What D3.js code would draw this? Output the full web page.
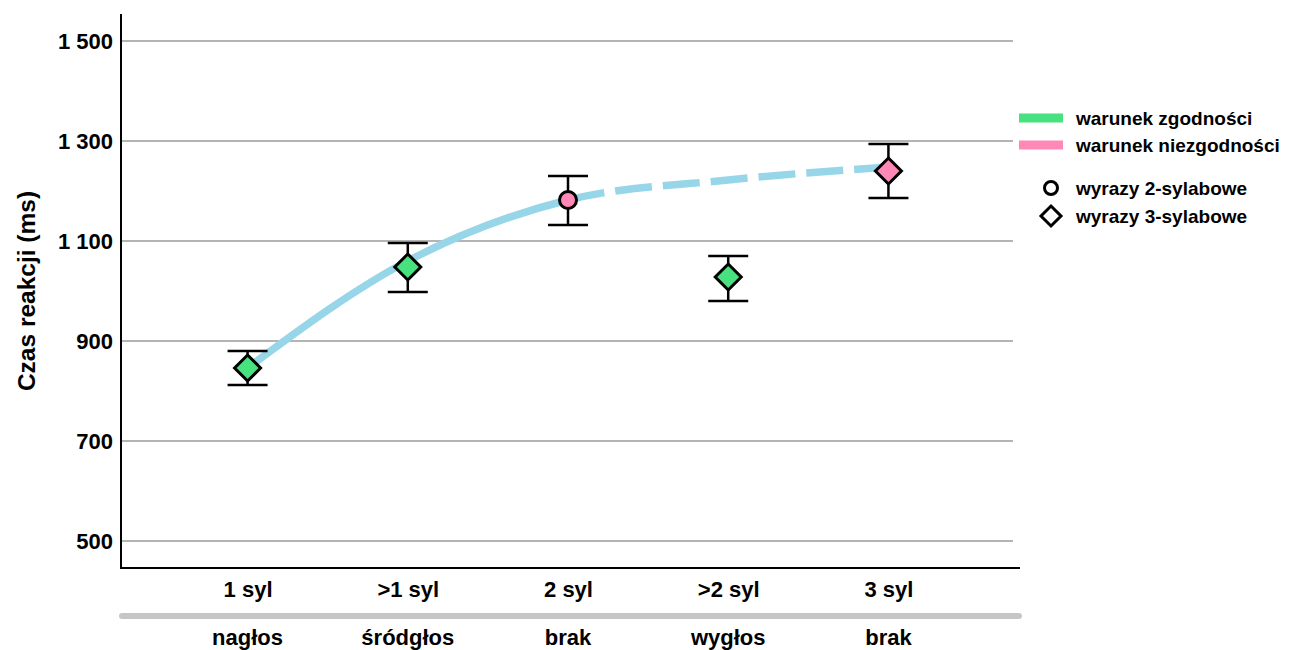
<!DOCTYPE html>
<html>
<head>
<meta charset="utf-8">
<script src="https://cdn.jsdelivr.net/npm/d3@7"></script>
<style>
  html, body { margin: 0; padding: 0; background: #fff; }
  svg { display: block; font-family: "Liberation Sans", Arial, sans-serif; }
</style>
</head>
<body>
<svg id="chart" width="1290" height="650"></svg>
<script>
// Syllable position categories (two-row axis labels)
const categories = ["1 syl", ">1 syl", "2 syl", ">2 syl", "3 syl"];
const positions  = ["nagłos", "śródgłos", "brak", "wygłos", "brak"];

// Mean reaction times (ms) and error-bar bounds
const means  = [846, 1048, 1182, 1028, 1240];
const lower  = [812, 998, 1132, 980, 1186];
const upper  = [880, 1096, 1230, 1070, 1294];
const condition = ["zgodność", "zgodność", "niezgodność", "zgodność", "niezgodność"];
const shapes    = ["diamond", "diamond", "circle", "diamond", "diamond"];

// Fitted trend line values at each category
const trend = [846, 1060, 1182, 1222, 1248];

const yTicks = [500, 700, 900, 1100, 1300, 1500];

const colors = { "zgodność": "#47e27f", "niezgodność": "#ff88b6" };
const trendColor = "#97d6e8";

const svg = d3.select("#chart");
const plotLeft = 121, plotRight = 1015, plotTop = 14, plotBottom = 568;

const y = d3.scaleLinear().domain([446, 1554]).range([plotBottom, plotTop]);
const x = d3.scalePoint().domain(categories).range([plotLeft, plotRight]).padding(0.79);

// Grid lines
svg.append("g").selectAll("line").data(yTicks).join("line")
  .attr("x1", plotLeft).attr("x2", 1013)
  .attr("y1", d => y(d)).attr("y2", d => y(d))
  .attr("stroke", "#b4b4b4").attr("stroke-width", 2);

// Y axis
const fmt = v => v >= 1000 ? Math.floor(v / 1000) + " " + String(v % 1000).padStart(3, "0") : String(v);
const yAxis = svg.append("g").attr("transform", `translate(${plotLeft},0)`)
  .call(d3.axisLeft(y).tickValues(yTicks).tickSize(0).tickPadding(8).tickFormat(fmt));
yAxis.select(".domain").remove();
yAxis.selectAll("text").attr("font-size", 22).attr("font-weight", "bold").attr("fill", "#000");

svg.append("line").attr("x1", plotLeft).attr("x2", plotLeft).attr("y1", plotTop).attr("y2", plotBottom + 1)
  .attr("stroke", "#000").attr("stroke-width", 2);
svg.append("line").attr("x1", plotLeft - 1).attr("x2", 1020).attr("y1", plotBottom).attr("y2", plotBottom)
  .attr("stroke", "#000").attr("stroke-width", 2);

// Y axis title
svg.append("text")
  .attr("transform", `translate(35,291) rotate(-90)`)
  .attr("text-anchor", "middle").attr("font-size", 24.5).attr("font-weight", "bold")
  .text("Czas reakcji (ms)");

// X axis: two rows of labels separated by a grey bar
const xAxis = svg.append("g").attr("transform", `translate(0,${plotBottom})`)
  .call(d3.axisBottom(x).tickSize(0).tickPadding(0));
xAxis.select(".domain").remove();
xAxis.selectAll("text").attr("dy", null).attr("y", 29)
  .attr("font-size", 22).attr("font-weight", "bold").attr("fill", "#000");

svg.append("line").attr("x1", 122).attr("x2", 1019).attr("y1", 616).attr("y2", 616)
  .attr("stroke", "#c6c6c6").attr("stroke-width", 6).attr("stroke-linecap", "round");

svg.append("g").selectAll("text").data(positions).join("text")
  .attr("x", (d, i) => x(categories[i])).attr("y", 645)
  .attr("text-anchor", "middle").attr("font-size", 22).attr("font-weight", "bold")
  .text(d => d);

// Trend line: solid up to "2 syl", dashed after it
const line = d3.line().x(d => x(d.c)).y(d => y(d.v)).curve(d3.curveMonotoneX);
const trendPts = categories.map((c, i) => ({ c, v: trend[i] }));
const probe = svg.append("path").datum(trendPts).attr("d", line)
  .attr("fill", "none").attr("stroke", "none");
const node = probe.node();
const total = node.getTotalLength();
// length along the path where it reaches the "2 syl" position
let splitLen = 0;
{
  const target = x("2 syl");
  let lo = 0, hi = total;
  for (let k = 0; k < 40; k++) {
    const mid = (lo + hi) / 2;
    if (node.getPointAtLength(mid).x < target) lo = mid; else hi = mid;
  }
  splitLen = lo;
}
probe.remove();
svg.append("path").datum(trendPts).attr("d", line)
  .attr("fill", "none").attr("stroke", trendColor).attr("stroke-width", 7.5)
  .attr("stroke-dasharray", `${splitLen} ${total}`);
const dashLen = 37, gapLen = 11;
const pattern = [0, splitLen];
let pos = splitLen;
while (pos < total) { pattern.push(dashLen, gapLen); pos += dashLen + gapLen; }
svg.append("path").datum(trendPts).attr("d", line)
  .attr("fill", "none").attr("stroke", trendColor).attr("stroke-width", 7.5)
  .attr("stroke-dasharray", pattern.join(" "));

// Error bars
const data = categories.map((c, i) => ({ c, m: means[i], lo: lower[i], hi: upper[i], cond: condition[i], shape: shapes[i] }));
const eb = svg.append("g").selectAll("g").data(data).join("g");
eb.append("line").attr("x1", d => x(d.c)).attr("x2", d => x(d.c))
  .attr("y1", d => y(d.hi)).attr("y2", d => y(d.lo))
  .attr("stroke", "#000").attr("stroke-width", 2.5);
eb.append("line").attr("x1", d => x(d.c) - 20).attr("x2", d => x(d.c) + 20)
  .attr("y1", d => y(d.hi)).attr("y2", d => y(d.hi))
  .attr("stroke", "#000").attr("stroke-width", 2.5);
eb.append("line").attr("x1", d => x(d.c) - 20).attr("x2", d => x(d.c) + 20)
  .attr("y1", d => y(d.lo)).attr("y2", d => y(d.lo))
  .attr("stroke", "#000").attr("stroke-width", 2.5);

// Markers
const diamondPath = r => `M0,${-r}L${r},0L0,${r}L${-r},0Z`;
eb.each(function (d) {
  const g = d3.select(this);
  if (d.shape === "circle") {
    g.append("circle").attr("cx", x(d.c)).attr("cy", y(d.m)).attr("r", 8.5)
      .attr("fill", colors[d.cond]).attr("stroke", "#000").attr("stroke-width", 3);
  } else {
    g.append("path").attr("d", diamondPath(13))
      .attr("transform", `translate(${x(d.c)},${y(d.m)})`)
      .attr("fill", colors[d.cond]).attr("stroke", "#000").attr("stroke-width", 3);
  }
});

// Legend
const lg = svg.append("g");
const legendItems = [
  { label: "warunek zgodności", color: colors["zgodność"], y: 118 },
  { label: "warunek niezgodności", color: colors["niezgodność"], y: 145 }
];
lg.selectAll("rect").data(legendItems).join("rect")
  .attr("x", 1019).attr("y", d => d.y - 4.5).attr("width", 44).attr("height", 9)
  .attr("fill", d => d.color);
lg.selectAll("text.c").data(legendItems).join("text").attr("class", "c")
  .attr("x", 1076).attr("y", d => d.y + 7).attr("font-size", 19).attr("font-weight", "bold")
  .text(d => d.label);

const shapeItems = [
  { label: "wyrazy 2-sylabowe", shape: "circle", y: 188 },
  { label: "wyrazy 3-sylabowe", shape: "diamond", y: 216 }
];
shapeItems.forEach(s => {
  if (s.shape === "circle") {
    lg.append("circle").attr("cx", 1051).attr("cy", s.y).attr("r", 6.5)
      .attr("fill", "#fff").attr("stroke", "#000").attr("stroke-width", 3);
  } else {
    lg.append("path").attr("d", diamondPath(10)).attr("transform", `translate(1051,${s.y})`)
      .attr("fill", "#fff").attr("stroke", "#000").attr("stroke-width", 3);
  }
  lg.append("text").attr("x", 1076).attr("y", s.y + 7).attr("font-size", 19).attr("font-weight", "bold")
    .text(s.label);
});
</script>
</body>
</html>
